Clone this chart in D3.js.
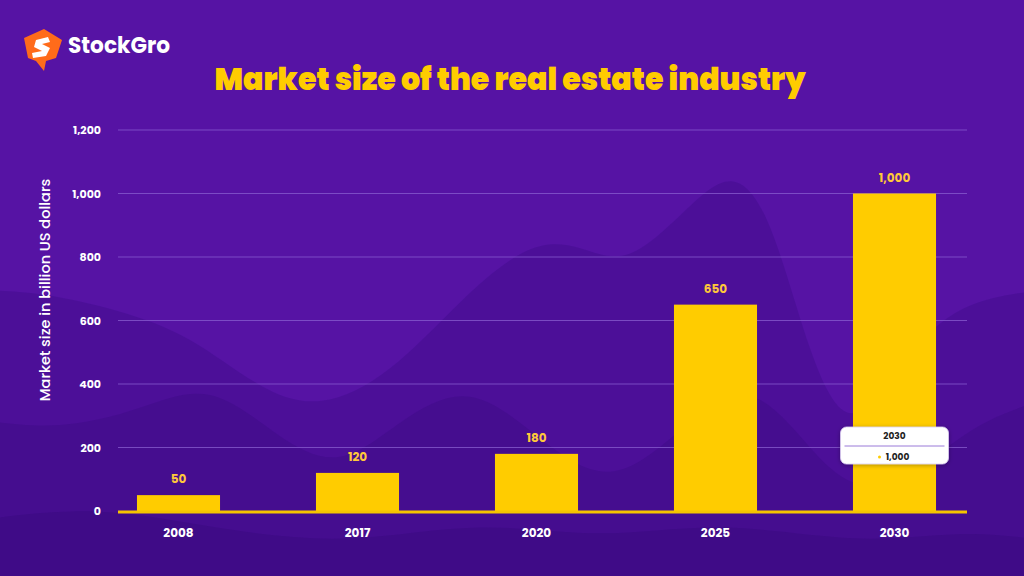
<!DOCTYPE html>
<html><head><meta charset="utf-8">
<script src="https://cdn.jsdelivr.net/npm/d3@7"></script>
<style>html,body{margin:0;padding:0;background:#5512a2;}svg{display:block;}</style>
</head><body>
<svg id="c" width="1024" height="576"></svg>
<script>
const years = ["2008","2017","2020","2025","2030"];
const values = [50,120,180,650,1000];
const valueLabels = ["50","120","180","650","1,000"];
const yTicks = [0,200,400,600,800,1000,1200];
const titleText = "Market size of the real estate industry";
const yAxisTitle = "Market size in billion US dollars";
const tooltipYear = "2030";
const tooltipValue = "1,000";

const svg = d3.select("#c");
const W = 1024, H = 576;
const FONT = "Poppins, Inter, 'Open Sans', sans-serif";

// background
svg.append("rect").attr("width",W).attr("height",H).attr("fill","#5613a4");
const area = d3.area().curve(d3.curveBasis).y0(H+5).x(d=>d[0]).y1(d=>d[1]);
const layers = [
  {c:"#4a0f96", o:0.85, pts:[[-20,290],[40,292],[120,310],[190,335],[260,390],[320,410],[390,375],[460,300],[530,240],[580,245],[627,268],[690,205],[732,168],[770,210],[810,360],[850,440],[900,360],[960,300],[1044,290]]},
  {c:"#440d8d", o:0.8, pts:[[-20,420],[60,430],[140,410],[210,380],[280,440],[340,470],[400,420],[470,380],[540,440],[610,490],[680,430],[740,380],[790,420],[850,500],[920,470],[980,420],[1044,400]]},
  {c:"#3d0b84", o:0.8, pts:[[-20,520],[100,505],[220,530],[350,545],[480,520],[600,540],[720,520],[860,545],[960,530],[1044,540]]}
];
layers.forEach(l=>{
  svg.append("path").attr("d",area(l.pts)).attr("fill",l.c).attr("opacity",l.o);
});

// logo
const logo = svg.append("g").attr("transform","translate(0,0)");
logo.append("path").attr("d","M24,38 L44,29 L62,40 L56,58 L46,61 L44,71 L36,61 L28,58 Z").attr("fill","#ff6b1a");
logo.append("path").attr("d","M36,40 L48,37 L50,42 L42,44 L50,48 L46,56 L33,58 L32,53 L42,51 L34,47 Z").attr("fill","#ffffff");
svg.append("text").attr("x",68).attr("y",53).text("StockGro")
  .attr("font-family",FONT).attr("font-weight",700).attr("font-size",22).attr("fill","#ffffff")
  .attr("textLength",102).attr("lengthAdjust","spacingAndGlyphs");

// title
svg.append("text").attr("x",510).attr("y",90).attr("text-anchor","middle").text(titleText)
  .attr("font-family",FONT).attr("font-weight",900).attr("font-size",32).attr("fill","#ffcc00")
  .attr("textLength",591).attr("lengthAdjust","spacingAndGlyphs");

// scales
const x = d3.scaleBand().domain(years).range([89,984]).paddingInner(0.536).paddingOuter(0.268);
const y = d3.scaleLinear().domain([0,1200]).range([511,130]);

// gridlines
svg.append("g").selectAll("line").data(yTicks.filter(t=>t>0)).join("line")
  .attr("x1",118).attr("x2",967).attr("y1",d=>y(d)).attr("y2",d=>y(d))
  .attr("stroke","#8a5fd0").attr("stroke-opacity",0.75).attr("stroke-width",1);

// y axis
const yAxis = d3.axisLeft(y).tickValues(yTicks).tickSize(0).tickPadding(0).tickFormat(d3.format(","));
const gy = svg.append("g").attr("transform","translate(101,0)").call(yAxis);
gy.select(".domain").remove();
gy.selectAll("text").attr("font-family",FONT).attr("font-weight",700).attr("font-size",11).attr("fill","#ffffff");

// y title
svg.append("text").attr("transform","translate(50,290) rotate(-90)").attr("text-anchor","middle").text(yAxisTitle)
  .attr("font-family",FONT).attr("font-weight",500).attr("font-size",14.5).attr("fill","#ffffff");

// bars
svg.append("g").selectAll("rect").data(values).join("rect")
  .attr("x",(d,i)=>x(years[i])).attr("width",x.bandwidth())
  .attr("y",d=>y(d)).attr("height",d=>y(0)-y(d)).attr("fill","#ffcc00");

// baseline
svg.append("line").attr("x1",118).attr("x2",967).attr("y1",y(0)+1).attr("y2",y(0)+1)
  .attr("stroke","#f5c400").attr("stroke-width",3);

// x axis
const xAxis = d3.axisBottom(x).tickSize(0).tickPadding(0);
const gx = svg.append("g").attr("transform","translate(0,528)").call(xAxis);
gx.select(".domain").remove();
gx.selectAll("text").attr("font-family",FONT).attr("font-weight",700).attr("font-size",12).attr("fill","#ffffff").attr("dy","0.71em").attr("y",0);

// value labels
svg.append("g").selectAll("text").data(values).join("text")
  .attr("x",(d,i)=>x(years[i])+x.bandwidth()/2).attr("y",d=>y(d)-12)
  .attr("text-anchor","middle").text((d,i)=>valueLabels[i])
  .attr("font-family",FONT).attr("font-weight",700).attr("font-size",12).attr("fill","#ffc83a");

// tooltip
const defs = svg.append("defs");
const f = defs.append("filter").attr("id","sh").attr("x","-20%").attr("y","-30%").attr("width","140%").attr("height","160%");
f.append("feDropShadow").attr("dx",0).attr("dy",1).attr("stdDeviation",2).attr("flood-color","#000").attr("flood-opacity",0.3);
const tx = x("2030")+x.bandwidth()/2;
const tt = svg.append("g");
tt.append("rect").attr("x",tx-54).attr("y",427).attr("width",108).attr("height",37).attr("rx",6)
  .attr("fill","#ffffff").attr("stroke","#d8cdef").attr("stroke-width",0.8).attr("filter","url(#sh)");
tt.append("text").attr("x",tx).attr("y",439).attr("text-anchor","middle").text(tooltipYear)
  .attr("font-family",FONT).attr("font-weight",700).attr("font-size",9).attr("fill","#222");
tt.append("line").attr("x1",tx-50).attr("x2",tx+50).attr("y1",446).attr("y2",446).attr("stroke","#9a7ad8").attr("stroke-width",1);
tt.append("circle").attr("cx",tx-15).attr("cy",457).attr("r",1.5).attr("fill","#ffcc00");
tt.append("text").attr("x",tx+3).attr("y",460).attr("text-anchor","middle").text(tooltipValue)
  .attr("font-family",FONT).attr("font-weight",700).attr("font-size",9).attr("fill","#222");
</script>
</body></html>
